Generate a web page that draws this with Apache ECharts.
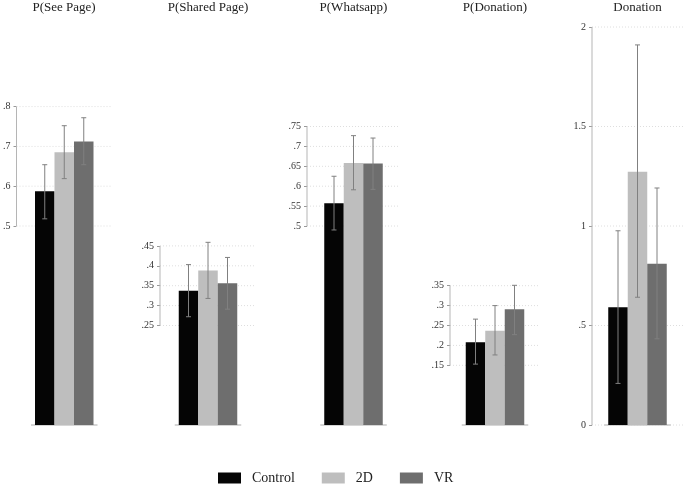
<!DOCTYPE html>
<html>
<head>
<meta charset="utf-8">
<script src="https://cdn.jsdelivr.net/npm/echarts@6/dist/echarts.min.js"></script>
<style>html,body{margin:0;padding:0;background:#fff}#c{width:685px;height:484px}</style>
</head>
<body>
<div id="c"></div>
<script>
// ---- data ----
const panels = ['P(See Page)', 'P(Shared Page)', 'P(Whatsapp)', 'P(Donation)', 'Donation'];
const groups = ['Control', '2D', 'VR'];
const controlMean = [0.587, 0.337, 0.557, 0.208, 0.592];
const controlLo   = [0.518, 0.272, 0.490, 0.153, 0.209];
const controlHi   = [0.654, 0.403, 0.625, 0.266, 0.976];
const twoDMean    = [0.685, 0.388, 0.658, 0.237, 1.273];
const twoDLo      = [0.619, 0.318, 0.591, 0.176, 0.642];
const twoDHi      = [0.752, 0.459, 0.727, 0.300, 1.910];
const vrMean      = [0.712, 0.356, 0.657, 0.291, 0.810];
const vrLo        = [0.654, 0.291, 0.592, 0.227, 0.433];
const vrHi        = [0.772, 0.421, 0.721, 0.351, 1.191];
const yTicks = [
  [0.5, 0.6, 0.7, 0.8],
  [0.25, 0.3, 0.35, 0.4, 0.45],
  [0.5, 0.55, 0.6, 0.65, 0.7, 0.75],
  [0.15, 0.2, 0.25, 0.3, 0.35],
  [0, 0.5, 1, 1.5, 2]
];
const yMax = [1, 1, 1, 1, 2];

// ---- layout / style ----
const gridLeft  = [16, 160, 307, 450, 592];
const gridWidth = [96, 96, 93, 90, 91];
const BW = 19.5;
const FONT = 'Liberation Serif';
const colors = ['#050505', '#bebebe', '#6e6e6e'];
const means = [controlMean, twoDMean, vrMean];
const los = [controlLo, twoDLo, vrLo];
const his = [controlHi, twoDHi, vrHi];

function fmt(v) {
  const s = String(+(+v).toFixed(2));
  return s.replace(/^0\./, '.');
}

const grid = [], xAxis = [], yAxis = [], title = [], series = [];
panels.forEach((name, p) => {
  grid.push({ left: gridLeft[p], width: gridWidth[p], top: 27, height: 398 });
  title.push({
    text: name, left: gridLeft[p] + gridWidth[p] / 2, top: 1, padding: 0, textAlign: 'center',
    textStyle: { fontFamily: FONT, fontSize: 13, fontWeight: 'normal', color: '#222' }
  });
  xAxis.push({ type: 'category', gridIndex: p, data: [name], show: false });
  yAxis.push({
    type: 'value', gridIndex: p, min: 0, max: yMax[p],
    axisLine: { show: false },
    axisTick: { show: true, length: 3, customValues: yTicks[p], lineStyle: { color: '#999' } },
    axisLabel: { show: true, customValues: yTicks[p], formatter: fmt, margin: 6,
      fontFamily: FONT, fontSize: 10, color: '#333' },
    splitLine: { show: false }
  });
  // background decorations: dotted gridlines, partial axis line, baseline
  series.push({
    type: 'custom', xAxisIndex: p, yAxisIndex: p, z: 1, silent: true,
    data: [[0, 0]],
    renderItem: function (params, api) {
      const cs = params.coordSys;
      const ticks = yTicks[p];
      const children = [];
      ticks.forEach(t => {
        const y = api.coord([0, t])[1];
        children.push({ type: 'line', shape: { x1: cs.x, y1: y, x2: cs.x + cs.width, y2: y },
          style: { stroke: '#dedede', lineWidth: 1, lineDash: [1, 2] } });
      });
      const yA = api.coord([0, ticks[0]])[1];
      const yB = api.coord([0, ticks[ticks.length - 1]])[1];
      children.push({ type: 'line', shape: { x1: cs.x, y1: yA, x2: cs.x, y2: yB },
        style: { stroke: '#b5b5b5', lineWidth: 1 } });
      const base = api.coord([0, 0]);
      children.push({ type: 'line', shape: { x1: base[0] - 1.5 * BW - 4, y1: base[1], x2: base[0] + 1.5 * BW + 4, y2: base[1] },
        style: { stroke: '#c8c8c8', lineWidth: 1.5 } });
      return { type: 'group', children: children };
    }
  });
  groups.forEach((g, gi) => {
    series.push({
      type: 'bar', name: g, xAxisIndex: p, yAxisIndex: p, z: 2,
      data: [means[gi][p]], barWidth: BW, barGap: '0%',
      itemStyle: { color: colors[gi] }
    });
  });
  // error bars
  series.push({
    type: 'custom', xAxisIndex: p, yAxisIndex: p, z: 3, silent: true,
    encode: { x: 0, y: [2, 3] },
    data: groups.map((g, gi) => [0, gi, los[gi][p], his[gi][p]]),
    renderItem: function (params, api) {
      const gi = api.value(1);
      const lo = api.coord([0, api.value(2)]);
      const hi = api.coord([0, api.value(3)]);
      const x = lo[0] + (gi - 1) * BW;
      const st = { stroke: '#808080', lineWidth: 1 };
      return { type: 'group', children: [
        { type: 'line', shape: { x1: x, y1: lo[1], x2: x, y2: hi[1] }, style: st },
        { type: 'line', shape: { x1: x - 2.5, y1: lo[1], x2: x + 2.5, y2: lo[1] }, style: st },
        { type: 'line', shape: { x1: x - 2.5, y1: hi[1], x2: x + 2.5, y2: hi[1] }, style: st }
      ] };
    }
  });
});

const chart = echarts.init(document.getElementById('c'), null, { renderer: 'canvas' });
chart.setOption({
  animation: false,
  backgroundColor: '#fff',
  title: title,
  grid: grid,
  xAxis: xAxis,
  yAxis: yAxis,
  legend: {
    data: groups, left: 218, top: 471, padding: 0, itemWidth: 23, itemHeight: 11, itemGap: 27,
    icon: 'rect',
    textStyle: { fontFamily: FONT, fontSize: 14, color: '#222', padding: [0, 0, 0, 6] }
  },
  series: series
});
</script>
</body>
</html>
